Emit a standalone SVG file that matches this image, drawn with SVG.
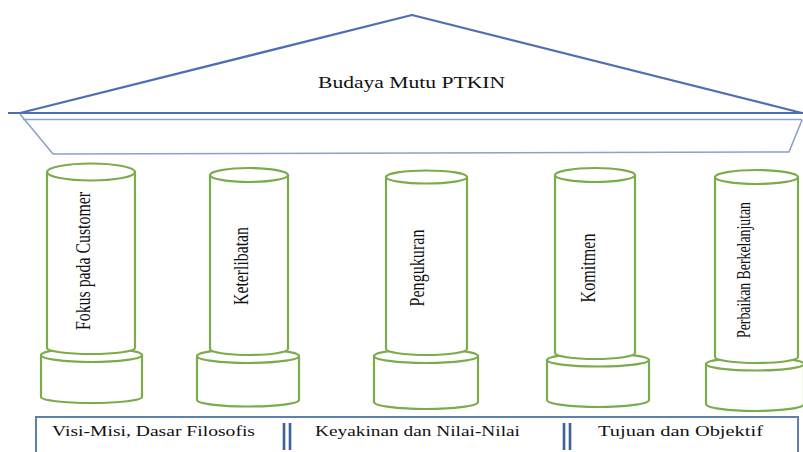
<svg xmlns="http://www.w3.org/2000/svg" width="803" height="452" viewBox="0 0 803 452">
<style>
.roof{fill:none;stroke:#4d70b3;stroke-width:2.2;stroke-linejoin:round}
.band{fill:none;stroke:#8da0c8;stroke-width:1.6}
.col{fill:#ffffff;stroke:#7cab4c;stroke-width:2.2;stroke-linejoin:round}
.lbl{font-family:"Liberation Serif","Times New Roman",serif;fill:#111111}
.box{fill:none;stroke:#5f7fae;stroke-width:2}
.bar{stroke:#3f5f9e;stroke-width:2.6}
</style>
<rect width="803" height="452" fill="#ffffff"/>
<g id="roof">
<line class="roof" x1="8" y1="113" x2="803" y2="113"/>
<polyline class="roof" points="20,113 412,15 802,113"/>
<polyline class="band" points="23,119.5 802,119.5"/>
<polyline class="band" points="20,114 53,154 789,152 802,120"/>
<text class="lbl" x="411.5" y="88" font-size="16.5" text-anchor="middle" textLength="187" lengthAdjust="spacingAndGlyphs">Budaya Mutu PTKIN</text>
</g>
<g id="col1">
<path class="col" d="M41,355 L41,397 A50.5,6 0 0 0 142,397 L142,355 Z"/>
<ellipse class="col" cx="91.5" cy="355" rx="50.5" ry="7"/>
<path class="col" d="M47,172 L47,348 A44,6 0 0 0 135,348 L135,172 Z"/>
<ellipse class="col" cx="91" cy="172" rx="44" ry="8.5"/>
<text class="lbl" font-size="21" text-anchor="middle" textLength="138" lengthAdjust="spacingAndGlyphs" transform="translate(90,261) rotate(-90)">Fokus pada Customer</text>
</g>
<g id="col2">
<path class="col" d="M197,356 L197,400 A51,6.5 0 0 0 299,400 L299,356 Z"/>
<ellipse class="col" cx="248" cy="356" rx="51" ry="7"/>
<path class="col" d="M210,175 L210,349 A39,6 0 0 0 288,349 L288,175 Z"/>
<ellipse class="col" cx="249" cy="175" rx="39" ry="7"/>
<text class="lbl" font-size="21" text-anchor="middle" textLength="78" lengthAdjust="spacingAndGlyphs" transform="translate(248,266) rotate(-90)">Keterlibatan</text>
</g>
<g id="col3">
<path class="col" d="M374,356 L374,402 A52,7 0 0 0 478,402 L478,356 Z"/>
<ellipse class="col" cx="426" cy="356" rx="52" ry="7"/>
<path class="col" d="M386,177 L386,349 A40.5,6 0 0 0 467,349 L467,177 Z"/>
<ellipse class="col" cx="426.5" cy="177" rx="40.5" ry="6.5"/>
<text class="lbl" font-size="21" text-anchor="middle" textLength="77" lengthAdjust="spacingAndGlyphs" transform="translate(424,268) rotate(-90)">Pengukuran</text>
</g>
<g id="col4">
<path class="col" d="M547,360 L547,400 A51,7 0 0 0 649,400 L649,360 Z"/>
<ellipse class="col" cx="598" cy="360" rx="51" ry="6.5"/>
<path class="col" d="M555,175 L555,353 A40,6 0 0 0 635,353 L635,175 Z"/>
<ellipse class="col" cx="595" cy="175" rx="40" ry="7"/>
<text class="lbl" font-size="21" text-anchor="middle" textLength="69" lengthAdjust="spacingAndGlyphs" transform="translate(595,268) rotate(-90)">Komitmen</text>
</g>
<g id="col5">
<path class="col" d="M706,364 L706,404 A49,7 0 0 0 804,404 L804,364 Z"/>
<ellipse class="col" cx="755" cy="364" rx="49" ry="6.5"/>
<path class="col" d="M715,177 L715,357 A41.5,6 0 0 0 798,357 L798,177 Z"/>
<ellipse class="col" cx="756.5" cy="177" rx="41.5" ry="7"/>
<text class="lbl" font-size="19" text-anchor="middle" textLength="136" lengthAdjust="spacingAndGlyphs" transform="translate(750,270) rotate(-90)">Perbaikan Berkelanjutan</text>
</g>
<g id="foundation">
<rect class="box" x="36" y="417" width="762" height="45"/>
<text class="lbl" x="52" y="436" font-size="15.5" textLength="203" lengthAdjust="spacingAndGlyphs">Visi-Misi, Dasar Filosofis</text>
<text class="lbl" x="315" y="436" font-size="15.5" textLength="205" lengthAdjust="spacingAndGlyphs">Keyakinan dan Nilai-Nilai</text>
<text class="lbl" x="598" y="436" font-size="15.5" textLength="165" lengthAdjust="spacingAndGlyphs">Tujuan dan Objektif</text>
</g>
<g id="connectors">
<line class="bar" x1="284" y1="423" x2="284" y2="450"/>
<line class="bar" x1="290" y1="423" x2="290" y2="450"/>
<line class="bar" x1="564" y1="423" x2="564" y2="450"/>
<line class="bar" x1="570" y1="423" x2="570" y2="450"/>
</g>
</svg>
